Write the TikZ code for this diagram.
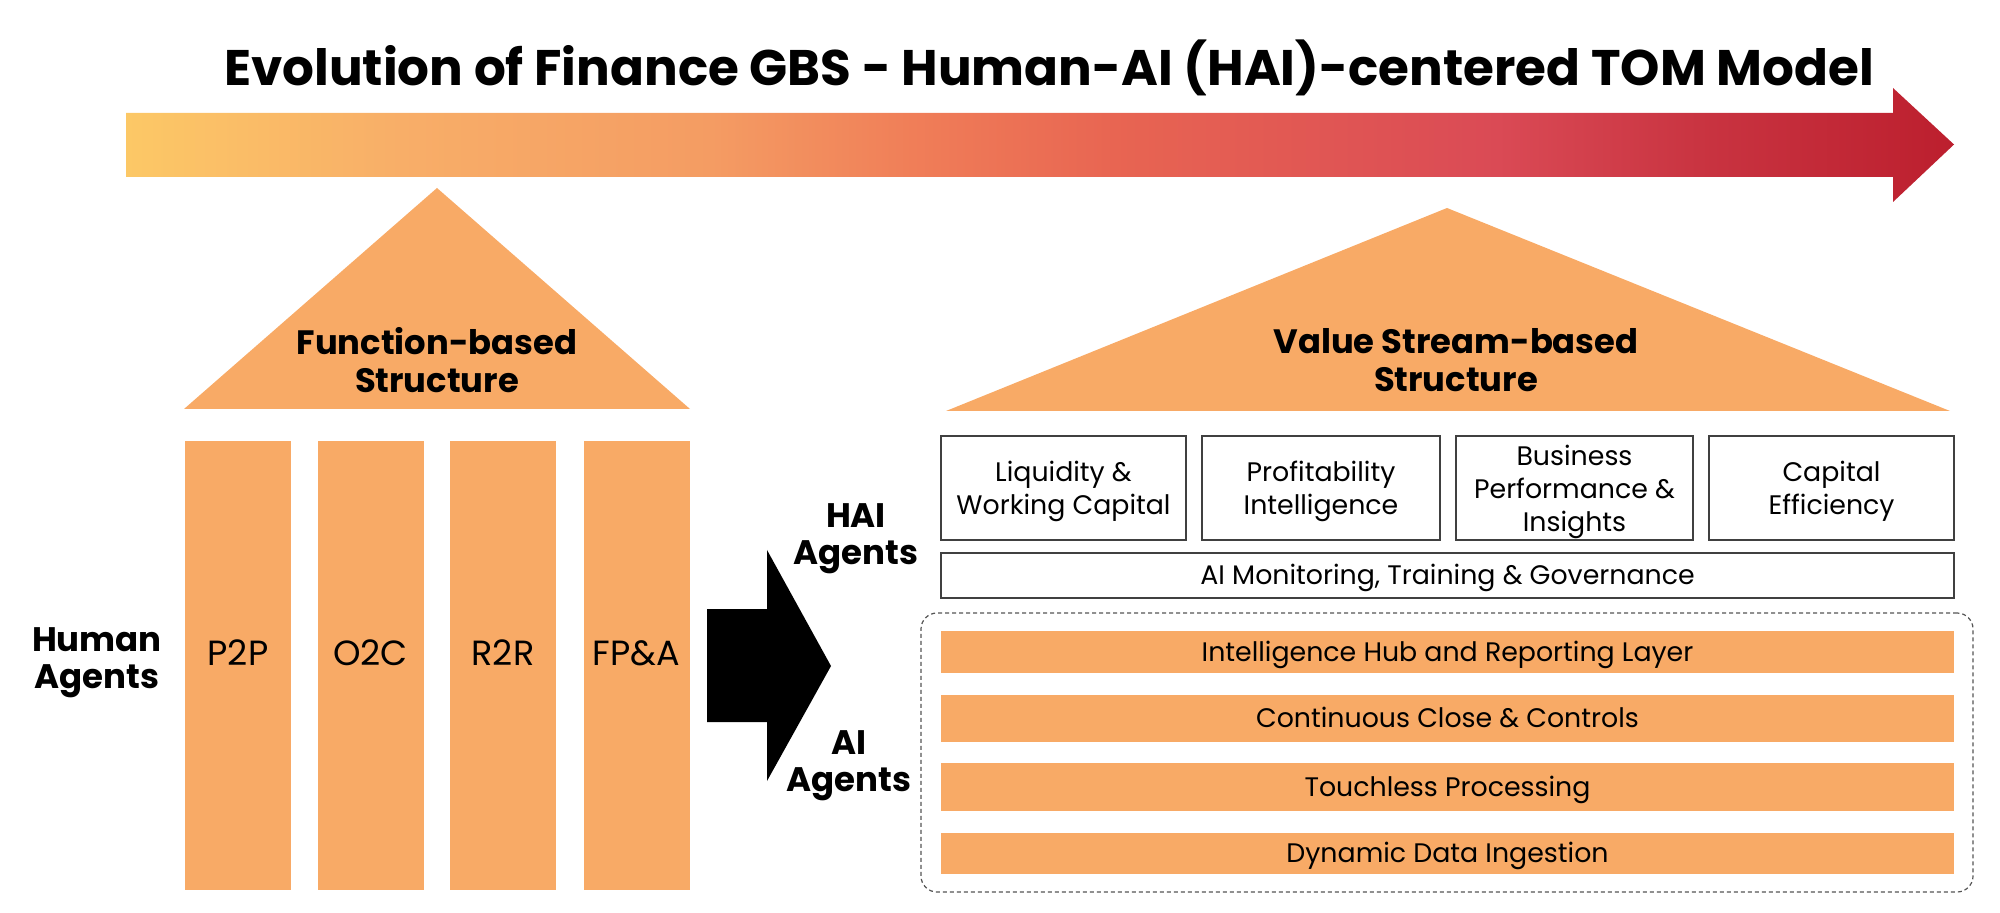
\documentclass[tikz,border=0pt]{standalone}
\usepackage{fontspec}
\setmainfont{Poppins}
\usetikzlibrary{calc}
\definecolor{org}{HTML}{F8AA66}
\definecolor{boxgray}{HTML}{404040}
\definecolor{dashgray}{HTML}{555555}
\definecolor{ga}{HTML}{FCC866}
\definecolor{gb}{HTML}{F8AE68}
\definecolor{gc}{HTML}{F49C63}
\definecolor{gd}{HTML}{F07E58}
\definecolor{ge}{HTML}{E86552}
\definecolor{gf}{HTML}{DA4A55}
\definecolor{gg}{HTML}{C93441}
\definecolor{gh}{HTML}{BC1F2E}
\pgfdeclarehorizontalshading{evo}{100bp}{color(0bp)=(ga); color(25bp)=(ga); color(32.5bp)=(gb); color(41bp)=(gc); color(46.5bp)=(gd); color(52bp)=(ge); color(62.5bp)=(gf); color(68bp)=(gg); color(75bp)=(gh); color(100bp)=(gh)}
\begin{document}
\begin{tikzpicture}[x=0.5pt,y=-0.5pt,
  titletext/.style={font=\fontsize{25}{30}\selectfont\bfseries, anchor=base, inner sep=0},
  pillar/.style={fill=org, draw=none, minimum width=53pt, minimum height=224.5pt, inner sep=0, font=\fontsize{17.5}{20}\selectfont, text height=0.7em, text depth=7.5pt},
  agent/.style={font=\fontsize{17}{18.5}\selectfont\bfseries, align=center, inner sep=0, text depth=0pt},
  rooftext/.style={font=\fontsize{16.9}{19}\selectfont\bfseries, align=center, inner sep=0, text depth=0pt},
  vsbox/.style={draw=boxgray, line width=0.7pt, fill=white, minimum height=52pt, inner sep=0, align=center, font=\fontsize{13.4}{16.5}\selectfont, text depth=0pt},
  govbox/.style={draw=boxgray, line width=0.7pt, fill=white, minimum width=506.5pt, minimum height=22.5pt, inner sep=0, font=\fontsize{13.4}{16.5}\selectfont, text height=0.92em, text depth=0pt},
  aibar/.style={fill=org, draw=none, minimum width=506.5pt, inner sep=0, font=\fontsize{13.4}{16.5}\selectfont, text height=0.9em, text depth=0pt},
  dashbox/.style={draw=dashgray, line width=0.6pt, dash pattern=on 2pt off 1.5pt, rounded corners=8pt, minimum width=526pt, minimum height=139.5pt, inner sep=0}
]
\useasboundingbox (0,0) rectangle (2000,913);

% title and gradient arrow
\node[titletext] (title) at (1049,86) {Evolution of Finance GBS - Human-AI (HAI)-centered TOM Model};
\shade[shading=evo] (126,113) -- (1893,113) -- (1893,88) -- (1954,144.5) -- (1893,202) -- (1893,177) -- (126,177) -- cycle;

% left roof and pillars
\fill[org] (184,409) -- (437,188) -- (690,409) -- cycle;
\node[rooftext] (fbs) at (437,359.5) {Function-based\\Structure};
\node[pillar] (p2p) at (238,665.5) {P2P};
\node[pillar] (o2c) at (370.5,665.5) {O2C};
\node[pillar] (r2r) at (503,665.5) {R2R};
\node[pillar] (fpa) at (636.5,665.5) {FP\&A};
\node[agent] (human) at (97,658) {Human\\Agents};

% big black arrow
\fill[black] (707,609) -- (767,609) -- (767,550) -- (831,666) -- (767,781) -- (767,722) -- (707,722) -- cycle;
\node[agent] (hai) at (856,534) {HAI\\Agents};
\node[agent] (ai) at (849,761) {AI\\Agents};

% right roof
\fill[org] (946,411) -- (1447,208) -- (1950,411) -- cycle;
\node[rooftext] (vsbs) at (1456,360) {Value Stream-based\\Structure};

% value stream boxes
\node[vsbox, minimum width=122.5pt] (liq) at (1063.5,488) {Liquidity \&\\Working Capital};
\node[vsbox, minimum width=119pt] (prof) at (1321,488) {Profitability\\Intelligence};
\node[vsbox, minimum width=118.5pt] (bpi) at (1574.5,488) {Business\\Performance \&\\Insights};
\node[vsbox, minimum width=122.5pt] (cap) at (1831.5,488) {Capital\\Efficiency};
\node[govbox] (gov) at (1447.5,575.5) {AI Monitoring, Training \& Governance};

% AI agents layers
\node[dashbox] (aibox) at (1447,752.5) {};
\node[aibar, minimum height=21pt] (hub) at (1447.5,652) {Intelligence Hub and Reporting Layer};
\node[aibar, minimum height=23.5pt] (close) at (1447.5,718.5) {Continuous Close \& Controls};
\node[aibar, minimum height=24pt] (touch) at (1447.5,787) {Touchless Processing};
\node[aibar, minimum height=20.5pt] (ingest) at (1447.5,853.5) {Dynamic Data Ingestion};
\end{tikzpicture}
\end{document}
